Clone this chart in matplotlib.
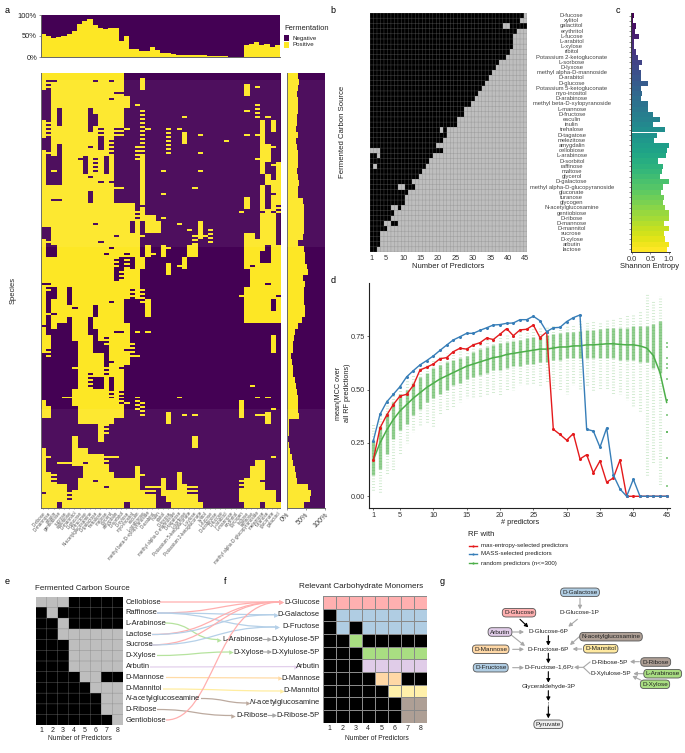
import numpy as np
import matplotlib
matplotlib.use('Agg')
import matplotlib.pyplot as plt
from matplotlib.colors import ListedColormap
from matplotlib.path import Path
from matplotlib.patches import PathPatch, Rectangle

plt.rcParams['font.family'] = ['Liberation Sans', 'DejaVu Sans']
plt.rcParams['mathtext.fontset'] = 'custom'
plt.rcParams['mathtext.rm'] = 'Liberation Sans'
plt.rcParams['mathtext.it'] = 'Liberation Sans:italic'

W, H = 685, 753
VIR_DARK, VIR_YEL = '#440154', '#FDE725'

# ---------- panel a data ----------
a_sources = ['D-ribose','D-mannose','arbutin','gentiobiose','sucrose','cellobiose','D-mannitol','D-glucose',
  'D-fructose','N-acetylglucosamine','D-galactose','trehalose','maltose','glycerol','amygdalin','D-sorbitol',
  'D-xylose','myo-inositol','esculin','L-arabinose','methyl beta-D-xylopyranoside','D-arabitol','inulin','ribitol',
  'D-lyxose','methyl alpha-D-mannoside','D-tagatose','L-sorbose','Potassium 5-ketogluconate','L-xylose',
  'Potassium 2-ketogluconate','xylitol','L-fucose','D-arabinose','D-fucose','L-arabitol','L-mannose','erythritol',
  'glycogen','lactose','raffinose','methyl alpha-D-glucopyranoside','melezitose','turanose','gluconate','galactitol']
a_top_positive = [55,49,45,47,49,55,63,78,85,90,76,70,67,70,68,39,49,19,19,15,15,23,17,10,9,6,5,5,5,4,4,4,3,3,2,2,1,1,1,28,32,35,28,30,24,28]
a_matrix = [
"################ ....................... .......",
"#..#######.##.## ...#................... .......",
"################ ...#................... #.#....",
"..############.. ....................... #......",
"..###########.## #...................... .......",
"..############## #.#.................... ..#....",
"..#.#####.###### ...#................... #......",
"..#.#####..##### ...........#........... ..#.#..",
"###.#####..##### ...#................... ...#.#.",
"#.#######.#.##.. #...#...#.#............ ...#.#.",
"################ ...#.......#..#........ #.##...",
"..#########.#... ........#..#.......#... ...#...",
"..#.#####.#.##.. ..##................... ...###.",
"###.#########... ........#.....#........ ...##..",
"#...###..#.#.#.. ..##................... ..###..",
"#...####.###.#.. ...#................... ...#.##",
"#.#.####.#.#.#.. ...#...#......#........ ...#..#",
"#...#####.####.. ...#................... ....#.#",
"#...#######.#... ...#................... ....###",
"################ ...#.........#......... ...#.##",
"#########.####.. ...#...#............... ...#..#",
"##..#####.####.. ...#................... #..#.##",
"################ ##..................... #..#.#.",
"################ ####..................# ....#.#",
"################ ##.###.#............... ...###.",
"##########.##### #.#.###...#...#........ ...###.",
"..############## #.#.###.....#.#.#...... ...###.",
"..############.# ####.........###....... ##.###.",
"###########.#### ###.............#...... ######.",
"#..##########.## ###.#..##...##......... ####.##",
"#..#########.### .##.##.#....##......... ###..##",
"##############.. #.##.......#........... ###..##",
"###############. ..##....#.##........... #.#####",
"##############.# ###.....#.............. .######",
"##############.. ###.................... .######",
"..############## ###.................... .###.##",
"##.##.########## #.##................... #######",
"#..##.##########  ###................... #######",
"#.###.#######.## ...##.................. #####.#",
"#.####.###.##### ....#.................. #####.#",
"##.#######.##### ....#.................. #######",
"#.###.###.###### ....................... #######",
"..#...###.###### #...................... .......",
"#.....###..###.. #.#.#.................. .......",
"##....####.#.### #...................... .....#.",
"##.....###..#### ##..................... .....#.",
"#......###...### ....................... .....#.",
".#.....#####.### ###..................... ......",
".......#####..## #...................... .......",
"......#########. ........................ ......",
".......##.##.### ........................ ......",
".......###..#.## ........................ ......",
".......##...#.## ........................ #......",
"......#########. ........................ .......",
"....#########.## ..#.......#............ ..#.#..",
"#.....#########. #..#..................#  ......",
"##.....#########  ..#................... #.....#",
"##.....#########  ...#....#..#.#........ #..###.",
".......#######.. ........#.............. ....#..",
"...........#.... ....................... .......",
"...........##... ....................... .......",
"......#....#.... .............#......... .......",
"......#......... .............#......... .......",
"#.....###....... ....................... .......",
"##....#########. ....................... .....#.",
"#..#####.###.... ....................... ..##...",
"#.......#####... ..#.................... .###...",
"###.....######.. ..##......#............ .###...",
"##.....###.#####  ###....#..#........... ####...",
"#####..#####.### ###.####..####......... ####...",
".###############  ####...#####.......... #######",
"#####.##########  ######..######........ #######",
"###.############ .#####...######........ ###.###",
]
a_right_positive = [30,32,28,27,29,30,28,26,27,25,28,24,26,30,28,30,26,29,33,28,30,42,46,45,44,46,45,42,30,45,47,48,52,
                    55,42,47,45,45,46,47,48,40,28,22,19,17,16,10,13,15,17,20,23,26,29,30,28,33,6,5,4,3,4,8,12,16,20,23,26,55,65,60,46]

# ---------- panel b/c data ----------
carbon_sources = ['D-fucose','xylitol','galactitol','erythritol','L-fucose','L-arabitol','L-xylose','ribitol',
  'Potassium 2-ketogluconate','L-sorbose','D-lyxose','methyl alpha-D-mannoside','D-arabitol','D-glucose',
  'Potassium 5-ketogluconate','myo-inositol','D-arabinose','methyl beta-D-xylopyranoside','L-mannose','D-fructose',
  'esculin','inulin','trehalose','D-tagatose','melezitose','amygdalin','cellobiose','L-arabinose','D-sorbitol',
  'raffinose','maltose','glycerol','D-galactose','methyl alpha-D-glucopyranoside','gluconate','turanose','glycogen',
  'N-acetylglucosamine','gentiobiose','D-ribose','D-mannose','D-mannitol','sucrose','D-xylose','arbutin','lactose']
b_black_count = [44,43,45,42,41,41,41,40,39,37,36,35,34,33,32,31,30,29,27,27,25,25,22,22,21,19,21,18,17,16,15,14,12,13,11,10,10,6,7,6,4,5,3,3,3,2]
b_gray_gaps = {2:[39,40], 22:[21], 26:[1,2,3], 27:[3], 29:[2], 33:[9,10]}
b_black_extra = {37:[9], 40:[7,8]}
entropy = [.06,.03,.11,.07,.18,.05,.05,.12,.16,.26,.20,.23,.24,.43,.23,.26,.23,.43,.43,.57,.76,.57,.89,.68,.59,.99,.94,.93,.71,.85,.81,.77,1.0,.84,.79,.88,.85,.90,.99,.99,.87,1.0,.88,.90,.99,.96]
b_ticks = [1,5,10,15,20,25,30,35,40,45]

# ---------- panel d data ----------
n_predictors = list(range(1,46))
mcc_entropy = [.17,.32,.38,.43,.47,.478,.52,.592,.605,.62,.645,.65,.678,.694,.69,.71,.72,.742,.735,.76,.786,.753,.78,.783,.803,.744,.77,.314,.29,.263,.294,.175,.195,.11,.166,.066,.086,.17,0,0,0,0,0,0,0]
mcc_mass = [.26,.384,.442,.478,.514,.56,.589,.616,.636,.658,.684,.709,.733,.748,.764,.764,.778,.79,.803,.805,.811,.8125,.828,.828,.844,.823,.772,.79,.792,.819,.8375,.85,.314,.306,.23,.32,.1,.034,0,.08,0,0,0,0,0]
mcc_random = [.17,.25,.31,.36,.40,.43,.46,.485,.51,.53,.55,.565,.58,.595,.61,.62,.63,.64,.65,.655,.665,.67,.675,.68,.685,.69,.69,.695,.70,.70,.705,.705,.71,.71,.712,.715,.715,.712,.71,.71,.705,.695,.66,.58,.44]
rand_core_low = [.10,.13,.2,.27,.31,.34,.38,.41,.44,.46,.48,.5,.52,.53,.55,.56,.57,.58,.59,.59,.6,.61,.61,.62,.62,.63,.63,.64,.64,.65,.65,.65,.65,.65,.65,.65,.65,.64,.64,.64,.63,.63,.6,.58,.72]
rand_core_high = [.26,.33,.39,.44,.48,.5,.53,.56,.58,.6,.615,.63,.64,.65,.66,.675,.69,.7,.71,.72,.725,.73,.735,.74,.745,.75,.755,.76,.765,.77,.77,.775,.78,.78,.785,.79,.79,.79,.79,.8,.8,.8,.81,.82,.72]
rand_all_low = [.03,.02,.1,.12,.2,.25,.3,.33,.35,.33,.38,.4,.42,.44,.46,.46,.47,.48,.48,.47,.5,.5,.52,.52,.53,.52,.53,.5,.5,.48,.52,.5,.52,.5,.5,.5,.48,.48,.45,.42,.4,.1,.15,.05,.72]
rand_all_high = [.34,.39,.46,.49,.52,.55,.57,.6,.62,.64,.66,.67,.68,.7,.71,.72,.73,.74,.75,.76,.76,.77,.78,.78,.79,.79,.8,.8,.8,.81,.81,.82,.82,.82,.82,.83,.83,.84,.85,.86,.87,.95,.92,.94,.72]
rand_last_values = [0,.05,.18,.3,.3,.38,.45,.45,.55,.6,.62,.65,.7,.72]
d_ticks = [1,5,10,15,20,25,30,35,40,45]
d_yticks = [0,.25,.5,.75]
legend_d = ['max-entropy-selected predictors','MASS-selected predictors','random predictors (n<=300)']

# ---------- panel e/f data ----------
e_labels = ['Cellobiose','Raffinose','L-Arabinose','Lactose','Sucrose','D-Xylose','Arbutin','D-Mannose','D-Mannitol',
            r'$\mathit{N}$-acetylglucoseamine','D-Ribose','Gentiobiose']
e_matrix = ["00011111","10111111","11011111","11000000","11100000","11100000","11100000","11110011","11111000","11111100","11111100","11111110"]
f_labels = ['D-Glucose','D-Galactose','D-Fructose','D-Xylulose-5P','D-Xylulose-5P','Arbutin','D-Mannose','D-Mannitol',
            r'$\mathit{N}$-acetylglucosamine','D-Ribose-5P']
f_matrix = ["RRRRRRRR","KBBBBBBB","KBKBBBBB","KKGKKKKK","KKKGGGGG","KKKPPPPP","KKKKOOKK","KKKKKYYY","KKKKKKNN","KKKKKKNN"]
f_colors = {'K':'#000000','R':'#FFB0B0','B':'#B0CDE3','G':'#A9DE82','P':'#E0CCE8','O':'#FFD8A6','Y':'#FFF0AA','N':'#AE9F95'}

fig = plt.figure(figsize=(W/100, H/100), dpi=100)

def axpx(x0, y0, x1, y1):
    return fig.add_axes([x0/W, 1-y1/H, (x1-x0)/W, (y1-y0)/H])

GRY = '#666666'
# ---- a: top stacked bar
ax = axpx(40.5, 15, 280, 57)
xs = np.arange(len(a_sources))
ax.bar(xs, 100, width=1, color=VIR_DARK)
ax.bar(xs, a_top_positive, width=1, color=VIR_YEL)
ax.set_xlim(-.5, len(a_sources)-.5); ax.set_ylim(0, 100)
ax.set_yticks([0,50,100]); ax.set_yticklabels(['0%','50%','100%'], fontsize=5.4, color='#222222')
ax.set_xticks([])
ax.tick_params(axis='y', length=1.5, width=.5, pad=1, color=GRY)
for s in ['top','right']: ax.spines[s].set_visible(False)
for s in ['left','bottom']: ax.spines[s].set_color(GRY); ax.spines[s].set_linewidth(.7)

# ---- a: heatmap (a cell that stands alone vertically is drawn as a thin streak)
rows = [r.replace(' ','').ljust(46,'.')[:46] for r in a_matrix]
M = np.array([[1 if c == '#' else 0 for c in r] for r in rows])
nr = M.shape[0]
M3 = np.repeat(M, 3, axis=0)
for i in range(nr):
    for j in range(M.shape[1]):
        up = M[i-1, j] if i > 0 else M[i, j]
        dn = M[i+1, j] if i < nr-1 else M[i, j]
        if up != M[i, j] and dn != M[i, j]:
            M3[3*i, j] = up; M3[3*i+2, j] = dn
ax = axpx(40.5, 72.7, 280, 508)
ax.imshow(M3, aspect='auto', cmap=ListedColormap([VIR_DARK, VIR_YEL]), interpolation='nearest', vmin=0, vmax=1,
          extent=(-.5, 45.5, nr-.5, -.5))
def tint(ax_, y0px, y1px, xr):
    f0 = (y0px-72.7)/(508-72.7)*nr-.5; f1 = (y1px-72.7)/(508-72.7)*nr-.5
    ax_.add_patch(Rectangle((xr[0], f0), xr[1]-xr[0], f1-f0, color='white', alpha=.06, lw=0, zorder=3))
tint(ax, 80, 246.7, (-.5, 45.5)); tint(ax, 409, 508, (-.5, 45.5))
ax.set_yticks([])
ax.set_xticks(xs); ax.set_xticklabels(a_sources, rotation=50, ha='right', va='top', rotation_mode='anchor', fontsize=3.3, color='#555555')
ax.tick_params(axis='x', length=1, width=.4, pad=.8, color=GRY)
for s in ['top','right']: ax.spines[s].set_visible(False)
for s in ['left','bottom']: ax.spines[s].set_color(GRY); ax.spines[s].set_linewidth(.7)

# ---- a: right stacked bar
ax = axpx(287, 72.7, 324.5, 508)
ys = np.arange(len(a_right_positive))
ax.barh(ys, 100, height=1, color=VIR_DARK)
ax.barh(ys, a_right_positive, height=1, color=VIR_YEL)
ax.set_xlim(0,100); ax.set_ylim(nr-.5,-.5)
tint(ax, 80, 246.7, (0,100)); tint(ax, 409, 508, (0,100))
ax.set_yticks([]); ax.set_xticks([0,50,100])
ax.set_xticklabels(['0%','50%','100%'], rotation=45, ha='right', va='top', rotation_mode='anchor', fontsize=5.2, color='#444444')
ax.tick_params(axis='x', length=1.5, width=.5, pad=1, color=GRY)
for s in ['top','right']: ax.spines[s].set_visible(False)
for s in ['left','bottom']: ax.spines[s].set_color(GRY); ax.spines[s].set_linewidth(.7)

def faint_grid(ax_, nx, ny, alpha):
    for k in range(nx+1):
        ax_.axvline(k+.5, color='#808080', lw=.35, alpha=alpha, snap=False, zorder=3)
    for k in range(ny+1):
        ax_.axhline(k+.5, color='#808080', lw=.35, alpha=alpha, snap=False, zorder=3)

# ---- b
nrow, ncol = len(carbon_sources), 45
B = np.zeros((nrow, ncol))
for i, c in enumerate(b_black_count):
    B[i, :c] = 1
    for g_ in b_gray_gaps.get(i, []): B[i, g_-1] = 0
    for g_ in b_black_extra.get(i, []): B[i, g_-1] = 1
ax = axpx(370, 13, 527, 252)
ax.pcolormesh(np.arange(ncol+1)+.5, np.arange(nrow+1)+.5, B, cmap=ListedColormap(['#BEBEBE','#000000']))
faint_grid(ax, ncol, nrow, .55)
ax.set_xlim(.5, 45.5); ax.set_ylim(nrow+.5, .5)
ax.set_xticks(b_ticks); ax.set_xticklabels(b_ticks, fontsize=5.3, color='#333333')
ax.set_yticks([])
ax.tick_params(axis='x', length=0, pad=2)
for s in ax.spines.values(): s.set_visible(False)

# ---- c
ax = axpx(630.7, 13, 670, 252)
cols = plt.get_cmap('viridis')(np.linspace(0, 1, nrow))
ax.barh(np.arange(nrow), entropy, height=1, left=0, color=cols)
ax.set_ylim(nrow-.5, -.5)
ax.set_xlim(-1.3/36, 1.03)
ax.set_xticks([0,.5,1]); ax.set_xticklabels(['0.0','0.5','1.0'], fontsize=5.3, color='#333333')
ax.set_yticks(np.arange(nrow)); ax.set_yticklabels([])
ax.tick_params(axis='y', length=1.5, width=.4, color='#333333')
ax.tick_params(axis='x', length=1.5, width=.4, pad=1.5, color='#333333')
for s in ['top','right']: ax.spines[s].set_visible(False)
for s in ['left','bottom']: ax.spines[s].set_color('#333333'); ax.spines[s].set_linewidth(.7)

# ---- d
ax = axpx(369.3, 283.3, 670, 507.7)
GREEN, RED, BLUE = '#4DAF4A', '#E41A1C', '#377EB8'
dash_offsets = [0, .31, .13, .44, .22, .05, .37, .17]
for k, n in enumerate(n_predictors[:-1]):
    off = dash_offsets[k % len(dash_offsets)]
    ax.vlines(n, rand_all_low[k], rand_all_high[k], color=GREEN, lw=2.2, alpha=.35, linestyles=[(off*3,(.22,.7))], zorder=1)
    ax.vlines(n, rand_core_low[k], rand_core_high[k], color=GREEN, lw=2.4, alpha=.6, zorder=2)
ax.scatter([n_predictors[-1]]*len(rand_last_values), rand_last_values, s=2.5, marker='s', color=GREEN, alpha=.6, lw=0, zorder=2)
ax.plot(n_predictors, mcc_random, color=GREEN, lw=1.1, zorder=3)
ax.plot(n_predictors, mcc_mass, color=BLUE, lw=1.0, marker='o', ms=1.2, zorder=5)
ax.plot(n_predictors, mcc_entropy, color=RED, lw=1.0, marker='o', ms=1.2, zorder=4)
ax.set_xlim(.4, 45.5); ax.set_ylim(-.0535, .9985)
ax.set_xticks(d_ticks); ax.set_xticklabels(d_ticks, fontsize=5.3, color='#333333')
ax.set_yticks(d_yticks); ax.set_yticklabels(['0.00','0.25','0.50','0.75'], fontsize=5.3, color='#333333')
ax.tick_params(length=1.5, width=.5, pad=1.5, color='#333333')
for s in ['top','right']: ax.spines[s].set_visible(False)
for s in ['left','bottom']: ax.spines[s].set_color('#222222'); ax.spines[s].set_linewidth(.8)

# ---- e
ax = axpx(35.7, 596.7, 123.3, 725.3)
E = np.array([[int(c) for c in r] for r in e_matrix])
ax.pcolormesh(np.arange(9)+.5, np.arange(13)+.5, E, cmap=ListedColormap(['#BEBEBE','#000000']))
faint_grid(ax, 8, 12, .7)
ax.set_xlim(.5,8.5); ax.set_ylim(12.5,.5); ax.set_xticks(range(1,9)); ax.set_xticklabels(range(1,9), fontsize=5, color='#222222')
ax.set_yticks([]); ax.tick_params(axis='x', length=0, pad=1.5)
for s in ax.spines.values(): s.set_visible(False)

# ---- f
ax = axpx(322.7, 596, 426.7, 722.7)
cells = np.array([[list(f_colors).index(c) for c in r] for r in f_matrix])
ax.pcolormesh(np.arange(9)+.5, np.arange(11)+.5, cells, cmap=ListedColormap(list(f_colors.values())), vmin=0, vmax=7, edgecolors='#8a8a8a', linewidth=.5)
ax.set_ylim(10.5,.5); ax.set_xticks(range(1,9)); ax.set_xticklabels(range(1,9), fontsize=5, color='#222222')
ax.set_yticks([]); ax.tick_params(axis='x', length=0, pad=1.5)
for s in ax.spines.values(): s.set_visible(False)

# ---- overlay (pixel coordinates)
ov = fig.add_axes([0,0,1,1], zorder=10); ov.set_xlim(0,W); ov.set_ylim(H,0); ov.axis('off'); ov.patch.set_alpha(0)
def T(x, y, s, size=5, ha='left', va='center', color='#222222', **k):
    ov.text(x, y, s, fontsize=size, ha=ha, va=va, color=color, **k)

for lab, x, y in [('a',7,10),('b',333,10),('c',618,10),('d',333,280),('e',7,582),('f',225,582),('g',442,582)]:
    T(x, y, lab, size=6.5, ha='center', color='#000000')

T(13, 290, 'Species', size=5.4, rotation=90, ha='center')
T(284, 28, 'Fermentation', size=5.4)
ov.add_patch(Rectangle((284,35),5.5,6,color=VIR_DARK,lw=0)); ov.add_patch(Rectangle((284,41.5),5.5,6,color=VIR_YEL,lw=0))
T(293, 38, 'Negative', size=4.4); T(293, 44.5, 'Positive', size=4.4)

T(343, 132, 'Fermented Carbon Source', size=5.6, rotation=90, ha='center')
T(448, 266, 'Number of Predictors', size=5.5, ha='center')
rowh = (252-13)/46
for i, s in enumerate(carbon_sources):
    T(571.7, 13+rowh*(i+.5), s, size=4.25, ha='center', color='#444444')
T(650, 266, 'Shannon Entropy', size=5.5, ha='center')

T(343, 393, 'mean(MCC over\nall RF predictions)', size=5.2, rotation=90, ha='center', linespacing=1.3)
T(520, 522.7, '# predictors', size=5.3, ha='center')
T(468, 534, 'RF with', size=5.6)
for s, y, c in zip(legend_d, [546,554,563], [RED, BLUE, GREEN]):
    ov.plot([469,477],[y,y], color=c, lw=1)
    ov.plot([473],[y], color=c, marker='o', ms=1.6, mew=0)
    T(481, y, s, size=4.4)

# e / f text
T(35, 588, 'Fermented Carbon Source', size=5.8)
T(80, 738, 'Number of Predictors', size=4.9, ha='center')
e_y = [602,612.7,623.3,634,645,655.3,666.7,677.3,688,698.3,709.3,720]
for s, y in zip(e_labels, e_y):
    T(125.5, y, s, size=5.4)
T(361, 587, 'Relevant Carbohydrate Monomers', size=5.9, ha='center')
T(376.7, 738, 'Number of Predictors', size=4.9, ha='center')
f_y = [602,614.7,627,639.5,652,666.6,678,691,703,715.5]
for s, y in zip(f_labels, f_y):
    T(320, y, s, size=5.4, ha='right')
T(222, 639.5, 'L-Arabinose', size=5.4)
T(233, 652, 'D-Xylose', size=5.4)
T(236, 715.5, 'D-Ribose', size=5.4)

cR,cB,cG,cP,cO,cY,cN = '#FFAFAF','#B5D0E8','#B6E39E','#E3D0EC','#FFDBA6','#FFEDA0','#BCAA9F'
flows = [(160,602,282,602,cR),(157,613,282,602,cR),(157,613,277,614.7,cB),(157,613,278,627,cB),
         (165,623,220,639.5,cG),(152,634.5,282,602,cR),(152,634.5,277,614.7,cB),(150,645,282,602,cR),(150,645,278,627,cB),
         (157,655.5,232,652,cG),(150,667,297,666.6,cP),(166,677.5,281,678,cO),(163,689,283,691,cY),
         (201,698.5,249,703,cN),(157,709.5,234,715.5,cN)]
def flow(x0,y0,x1,y1,c,f=.5):
    xm = x0+(x1-x0)*f
    p = Path([(x0,y0),(xm,y0),(xm,y1),(x1-2,y1)],[Path.MOVETO,Path.CURVE4,Path.CURVE4,Path.CURVE4])
    ov.add_patch(PathPatch(p, fc='none', ec=c, lw=.9))
    ov.plot([x1-1],[y1], marker='>', ms=3.2, color=c, mew=0)
for x0,y0,x1,y1,c in flows:
    flow(x0,y0,x1,y1,c)
flow(166,720,282,602,cR,.42)
def garrow(x0,y0,x1,y1,c='#A8A8A8',lw=.8):
    ov.annotate('', xy=(x1,y1), xytext=(x0,y0), arrowprops=dict(arrowstyle='-|>,head_length=.3,head_width=.16', color=c, lw=lw, shrinkA=0, shrinkB=0, mutation_scale=7))
for y in [639.5,652]:
    garrow(263,y,272,y)
garrow(268,715.5,277,715.5)

# g
def pill(x,y,s,c):
    ov.text(x,y,s,fontsize=4.6,ha='center',va='center',color='#222222',zorder=12,
            bbox=dict(boxstyle='round,pad=.28,rounding_size=.6',fc=c,ec='#555555',lw=.6))
for x,y,s,c in [(580,592.3,'D-Galactose','#B0CDE3'),(519,612.7,'D-Glucose','#FFB0B0'),(500,632,'Arbutin','#E0CCE8'),
                (490.7,649.3,'D-Mannose','#FFD8A6'),(490.7,667.7,'D-Fructose','#B0CDE3'),(611,636.7,'N-acetylglucosamine','#AE9F95'),
                (600.7,648.7,'D-Mannitol','#FFE9A0'),(655.7,662,'D-Ribose','#AE9F95'),(662.7,673.7,'L-Arabinose','#A9DE82'),
                (655,684.3,'D-Xylose','#A9DE82'),(548.3,724.3,'Pyruvate','#EDEDED')]:
    pill(x,y,s,c)
for x,y,s in [(579.3,612.7,'D-Glucose-1P'),(548.3,631.7,'D-Glucose-6P'),(548.3,649.3,'D-Fructose-6P'),
              (550,667.3,r'D-Fructose-1,6P$_2$'),(548.3,686.3,'Glyceraldehyde-3P'),(609.3,662,'D-Ribose-5P'),(611,673.7,'D-Xylulose-5P')]:
    T(x,y,s,size=4.6,ha='center')
def g(xa,ya,xb,yb,c='#A8A8A8'):
    garrow(500+xa/3,570+ya/3,500+xb/3,570+yb/3,c=c)
for a in [(60,148,85,172),(145,197,145,227),(145,250,145,280),(145,305,145,338),(145,362,145,393),(145,410,145,445)]:
    g(*a,c='#000000')
for a in [(240,85,240,118),(232,148,205,170),(38,186,72,186),(35,196,75,228),(38,238,72,238),(38,293,72,293),
          (238,200,210,225),(245,237,218,237),(418,275,390,275),(430,311,400,311),(422,330,397,318),(250,292,222,292)]:
    g(*a)
ov.plot([500+270/3,500+250/3,500+270/3],[570+276/3,570+292/3,570+311/3],color='#A8A8A8',lw=.8)
ov.plot([500+145/3]*2,[570+395/3,570+410/3],color='#000000',lw=.6,ls=':')

fig.savefig('out.png', dpi=100)
